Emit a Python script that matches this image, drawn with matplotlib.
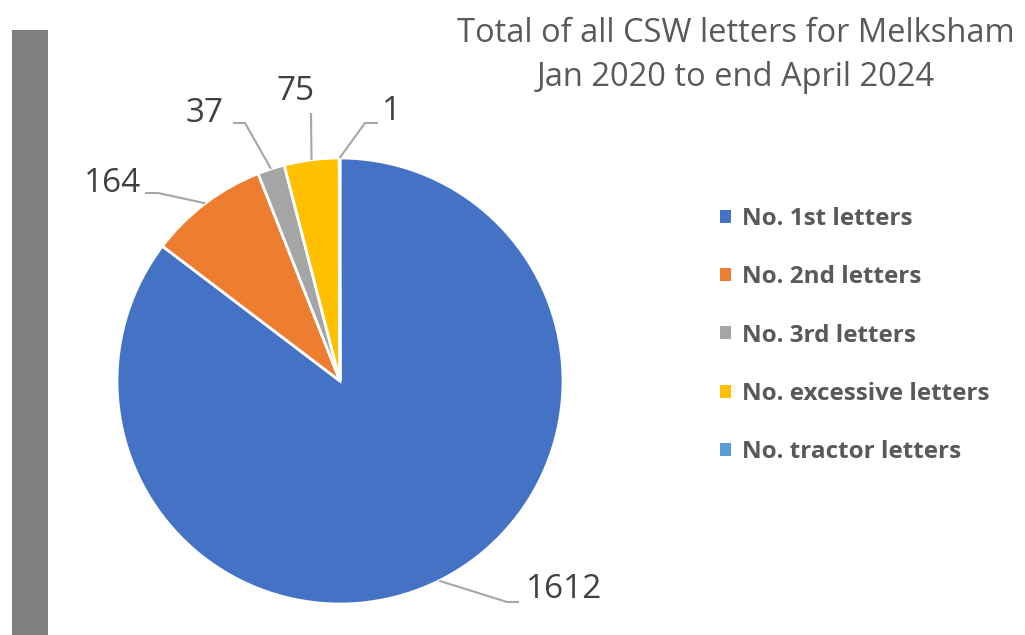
import matplotlib
matplotlib.use("Agg")
import matplotlib.pyplot as plt
from matplotlib.patches import Rectangle, Patch
import numpy as np

categories = ["No. 1st letters", "No. 2nd letters", "No. 3rd letters",
              "No. excessive letters", "No. tractor letters"]
values = [1612, 164, 37, 75, 1]
colors = ["#4472C4", "#ED7D31", "#A5A5A5", "#FFC000", "#5B9BD5"]
title_lines = ["Total of all CSW letters for Melksham", "Jan 2020 to end April 2024"]

W, H = 1025, 635
fig = plt.figure(figsize=(W / 100, H / 100), dpi=100)
ax = fig.add_axes([0, 0, 1, 1])

# grey side bar
ax.add_patch(Rectangle((12, 0), 36, H - 30, facecolor="#808080", edgecolor="none"))

cx, cy, R = 340, 254, 223
wedges, _ = ax.pie(values, colors=colors, startangle=90, counterclock=False,
                   center=(cx, cy), radius=R, frame=True,
                   wedgeprops=dict(edgecolor="white", linewidth=2))
ax.set_xlim(0, W)
ax.set_ylim(0, H)
ax.set_aspect("equal")
ax.axis("off")

# label layout: (elbow point, end point, text position, ha)
layout = [
    ((507, 33), (519, 33), (526, 45), "left"),
    ((158, 442), (145, 442), (141, 452), "right"),
    ((245, 512), (233, 512), (224, 522), "right"),
    ((311, 522), (311, 522), (296, 543), "center"),
    ((365, 512), (378, 512), (382, 523), "left"),
]
for w, v, (elb, end, tpos, ha) in zip(wedges, values, layout):
    ang = np.deg2rad((w.theta1 + w.theta2) / 2)
    sx, sy = cx + R * np.cos(ang), cy + R * np.sin(ang)
    ax.plot([sx, elb[0], end[0]], [sy, elb[1], end[1]], color="#A6A6A6", lw=1.5,
            solid_capstyle="butt", zorder=1)
    ax.text(tpos[0], tpos[1], str(v), ha=ha, va="center", fontsize=24,
            family="Open Sans", color="#404040")

ax.text(736, 601, title_lines[0], ha="center", va="center", fontsize=23.5,
        family="Open Sans", color="#595959")
ax.text(736, 557, title_lines[1], ha="center", va="center", fontsize=23.5,
        family="Open Sans", color="#595959")

handles = [Patch(facecolor=c, edgecolor="none") for c in colors]
leg = ax.legend(handles, categories, loc="upper left", bbox_to_anchor=(720 / W, 1 - 207 / H),
                frameon=False, borderaxespad=0, borderpad=0,
                handlelength=0.45, handleheight=0.45, handletextpad=0.45,
                labelspacing=1.41, prop=dict(family="Open Sans", weight="bold", size=17.5))
for t in leg.get_texts():
    t.set_color("#595959")

fig.savefig("out.png", dpi=100)
